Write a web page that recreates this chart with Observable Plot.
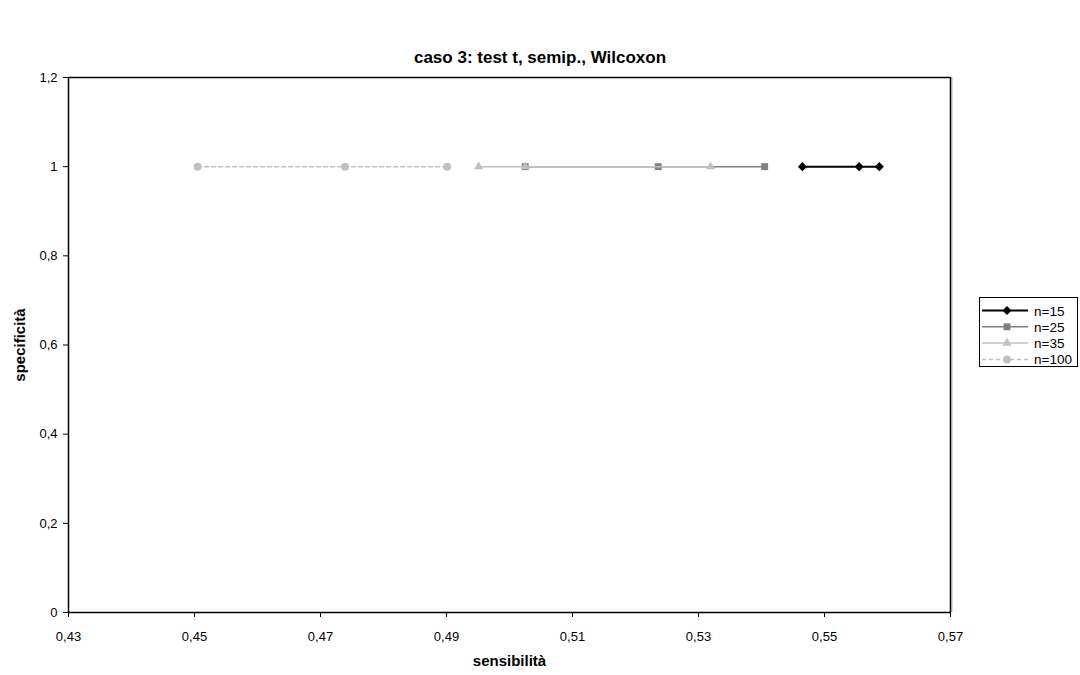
<!DOCTYPE html>
<html><head><meta charset="utf-8">
<script src="https://cdn.jsdelivr.net/npm/d3@7"></script>
<script src="https://cdn.jsdelivr.net/npm/@observablehq/plot@0.6"></script>
<style>
body{margin:0;background:#fff;font-family:"Liberation Sans",Arial,sans-serif;}
#wrap{position:relative;width:1080px;height:675px;}
#title{position:absolute;left:0;width:1080px;top:48px;text-align:center;font-weight:bold;font-size:17px;}
#legend{position:absolute;left:979px;top:297px;}
g[aria-label="x-axis label"] text, g[aria-label="y-axis label"] text{font-weight:bold;font-size:15px;}
</style></head><body><div id="wrap"><div id="title"></div><div id="chart"></div><svg id="legend"></svg></div>
<script>
const titleText = "caso 3: test t, semip., Wilcoxon";
const xLabel = "sensibilità";
const yLabel = "specificità";
const seriesNames = ["n=15", "n=25", "n=35", "n=100"];
const sens15 = [0.5465, 0.5555, 0.5587];
const spec15 = [1, 1, 1];
const sens25 = [0.5025, 0.5236, 0.5405];
const spec25 = [1, 1, 1];
const sens35 = [0.4951, 0.5025, 0.5319];
const spec35 = [1, 1, 1];
const sens100 = [0.4505, 0.4739, 0.4901];
const spec100 = [1, 1, 1];
const xTicks = [0.43, 0.45, 0.47, 0.49, 0.51, 0.53, 0.55, 0.57];
const yTicks = [0, 0.2, 0.4, 0.6, 0.8, 1, 1.2];

const styles = {
  "n=15": {color: "#000000", symbol: "diamond2", r: 4.1, width: 2, dash: null},
  "n=25": {color: "#808080", symbol: "square", r: 3.9, width: 1.5, dash: null},
  "n=35": {color: "#c0c0c0", symbol: "triangle", r: 3.4, width: 1.5, dash: null},
  "n=100": {color: "#c0c0c0", symbol: "circle", r: 4, width: 1.5, dash: "4,3"}
};
const seriesData = {
  "n=15": sens15.map((x, i) => ({x, y: spec15[i]})),
  "n=25": sens25.map((x, i) => ({x, y: spec25[i]})),
  "n=35": sens35.map((x, i) => ({x, y: spec35[i]})),
  "n=100": sens100.map((x, i) => ({x, y: spec100[i]}))
};
const fmt = d => String(d).replace(".", ",");

const marks = [];
for (const name of seriesNames) {
  const s = styles[name];
  marks.push(Plot.line(seriesData[name], {x: "x", y: "y", stroke: s.color, strokeWidth: s.width, strokeDasharray: s.dash}));
  marks.push(Plot.dot(seriesData[name], {x: "x", y: "y", symbol: () => s.symbol, fill: s.color, stroke: "none", r: s.r}));
}

const chart = Plot.plot({
  width: 1080, height: 675,
  marginLeft: 68, marginRight: 130, marginTop: 77, marginBottom: 63,
  style: {fontFamily: '"Liberation Sans", Arial, sans-serif', fontSize: "13px", background: "#fff", color: "#000"},
  symbol: {type: "identity"},
  x: {domain: [0.43, 0.57], ticks: xTicks, tickFormat: fmt, tickSize: 5, tickPadding: 14, label: xLabel, labelAnchor: "center", labelArrow: "none", labelOffset: 53},
  y: {domain: [0, 1.2], ticks: yTicks, tickFormat: fmt, tickSize: 5, tickPadding: 6, label: yLabel, labelAnchor: "center", labelArrow: "none", labelOffset: 54},
  marks: [
    Plot.ruleX([0.57], {stroke: "#d0d0d0", strokeWidth: 1.5, dx: 1.5}),
    Plot.ruleY([1.2], {stroke: "#000", strokeWidth: 1.5}),
    Plot.ruleX([0.57], {stroke: "#000", strokeWidth: 1.5}),
    Plot.ruleX([0.43], {stroke: "#000", strokeWidth: 1.5}),
    Plot.ruleY([0], {stroke: "#000", strokeWidth: 1.5}),
    ...marks
  ]
});
document.getElementById("chart").appendChild(chart);
document.getElementById("title").textContent = titleText;

// legend
const lg = d3.select("#legend").attr("width", 100).attr("height", 70);
lg.append("rect").attr("x", 0.5).attr("y", 0.5).attr("width", 98).attr("height", 69).attr("fill", "#fff").attr("stroke", "#000");
const symMap = {diamond2: d3.symbolDiamond2, square: d3.symbolSquare, triangle: d3.symbolTriangle, circle: d3.symbolCircle};
seriesNames.forEach((name, i) => {
  const s = styles[name];
  const y = 13.5 + i * 16.3;
  const g = lg.append("g");
  g.append("line").attr("x1", 3).attr("x2", 49).attr("y1", y).attr("y2", y).attr("stroke", s.color).attr("stroke-width", s.width).attr("stroke-dasharray", s.dash);
  g.append("path").attr("d", d3.symbol(symMap[s.symbol], Math.PI * s.r * s.r)()).attr("transform", `translate(28,${y})`).attr("fill", s.color);
  g.append("text").attr("x", 55).attr("y", y + 5).attr("font-size", 13.5).attr("font-family", '"Liberation Sans", Arial, sans-serif').text(name);
});
</script></body></html>
